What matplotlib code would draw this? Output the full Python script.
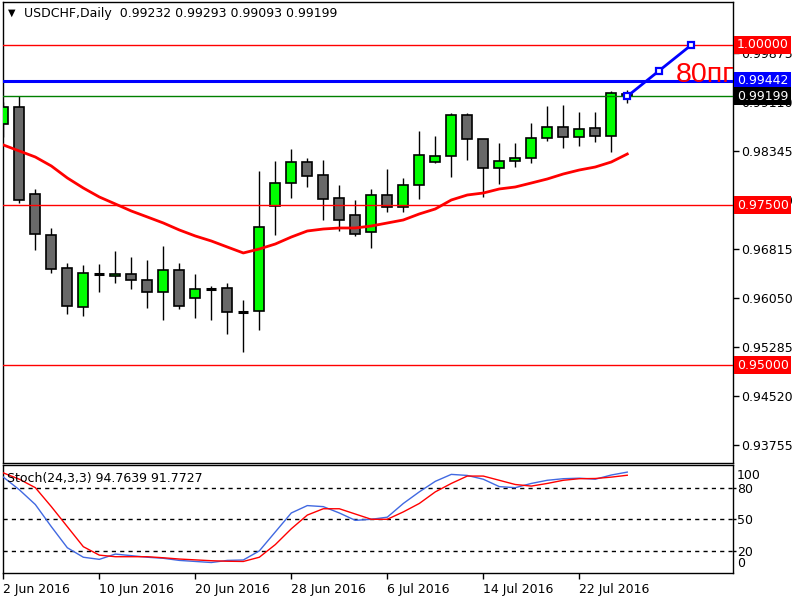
import matplotlib
matplotlib.use('Agg')
import matplotlib.pyplot as plt
from matplotlib.patches import Rectangle
import matplotlib.transforms as mtransforms

# ---- data ----
opens = [0.98762, 0.99027, 0.97669, 0.97029, 0.96514, 0.95905, 0.96431, 0.96389, 0.96420, 0.96326,
         0.96139, 0.96482, 0.96045, 0.96190, 0.96201, 0.95836, 0.95842, 0.97482, 0.97841, 0.98169,
         0.97966, 0.97607, 0.97341, 0.97076, 0.97653, 0.97466, 0.97810, 0.98169, 0.98262, 0.98902,
         0.98528, 0.98075, 0.98184, 0.98231, 0.98543, 0.98715, 0.98559, 0.98699, 0.98575, 0.99232]
highs = [0.99105, 0.99204, 0.97752, 0.97143, 0.96596, 0.96565, 0.96581, 0.96784, 0.96690, 0.96643,
         0.96862, 0.96596, 0.96425, 0.96233, 0.96284, 0.96019, 0.98033, 0.98189, 0.98376, 0.98231,
         0.98205, 0.97814, 0.97580, 0.97752, 0.98064, 0.97923, 0.98657, 0.98579, 0.98934, 0.98934,
         0.98535, 0.98470, 0.98470, 0.98782, 0.99048, 0.99063, 0.98954, 0.98954, 0.99277, 0.99293]
lows = [0.98568, 0.97538, 0.96804, 0.96445, 0.95805, 0.95774, 0.96148, 0.96289, 0.96195, 0.95898,
        0.95711, 0.95883, 0.95742, 0.95711, 0.95493, 0.95212, 0.95546, 0.97038, 0.97616, 0.97788,
        0.97272, 0.97101, 0.97023, 0.96835, 0.97397, 0.97397, 0.97600, 0.98153, 0.97944, 0.98209,
        0.97632, 0.97825, 0.98091, 0.98153, 0.98496, 0.98397, 0.98428, 0.98490, 0.98334, 0.99093]
closes = [0.99027, 0.97575, 0.97044, 0.96498, 0.95920, 0.96436, 0.96429, 0.96420, 0.96326, 0.96139,
          0.96482, 0.95920, 0.96186, 0.96190, 0.95827, 0.95836, 0.97154, 0.97841, 0.98169, 0.97950,
          0.97591, 0.97263, 0.97044, 0.97653, 0.97466, 0.97810, 0.98278, 0.98262, 0.98902, 0.98528,
          0.98075, 0.98184, 0.98231, 0.98543, 0.98715, 0.98559, 0.98684, 0.98575, 0.99246, 0.99199]
ma = [0.98439, 0.98345, 0.98251, 0.98111, 0.97924, 0.97767, 0.97627, 0.97518, 0.97408, 0.97315,
      0.97221, 0.97112, 0.97018, 0.96940, 0.96846, 0.96753, 0.96815, 0.96893, 0.97002, 0.97096,
      0.97127, 0.97143, 0.97143, 0.97174, 0.97221, 0.97268, 0.97362, 0.97440, 0.97580, 0.97658,
      0.97689, 0.97752, 0.97783, 0.97845, 0.97908, 0.97986, 0.98048, 0.98095, 0.98173, 0.98298]
stoch_k = [90, 78, 64, 43, 23, 14, 12, 17, 15.5, 14, 13, 11, 10, 9, 11, 11.4, 20, 38, 56, 63,
           62, 56, 49, 50, 52, 65, 76, 86, 92.6, 91.6, 88, 81, 80, 84, 87, 88.5, 89, 88, 92, 94.7639]
stoch_d = [94, 88, 80, 62, 43, 24, 16, 14.5, 14.5, 14.5, 13.5, 12.3, 11.5, 10.7, 10.2, 10, 14, 26, 41, 54,
           60, 60, 55, 50, 50, 57, 65, 76, 84, 91, 91, 87, 83, 81.5, 84, 87, 88.5, 88.7, 90, 91.7727]

date_tick_idx = [0, 6, 12, 18, 24, 30, 36]
date_tick_labels = ['2 Jun 2016', '10 Jun 2016', '20 Jun 2016', '28 Jun 2016',
                    '6 Jul 2016', '14 Jul 2016', '22 Jul 2016']
price_ticks = [0.99875, 0.99110, 0.98345, 0.97580, 0.96815, 0.96050, 0.95285, 0.94520, 0.93755]
red_levels = [1.00000, 0.97500, 0.95000]
blue_level = 0.99442
bid_level = 0.99199
trend_x = [39, 41, 43]
trend_y = [0.99199, 0.99600, 1.00000]
header = 'USDCHF,Daily  0.99232 0.99293 0.99093 0.99199'
stoch_title = 'Stoch(24,3,3) 94.7639 91.7727'
annotation = '80пп'

# ---- figure ----
W, H = 800, 600
fig = plt.figure(figsize=(8, 6), dpi=100)
fig.patch.set_facecolor('white')

left_px, right_px = 2.7, 732.7
ax = fig.add_axes([left_px / W, (H - 463) / H, (right_px - left_px) / W, (463 - 2) / H])
ax2 = fig.add_axes([left_px / W, (H - 573) / H, (right_px - left_px) / W, (573 - 465) / H])

xmin = -0.04
xmax = 45.59
ax.set_xlim(xmin, xmax)
ax2.set_xlim(xmin, xmax)
ax.set_ylim(0.93474, 1.00671)
ax2.set_ylim(-0.95, 101.5)

for a in (ax, ax2):
    for s in a.spines.values():
        s.set_color('black')
        s.set_linewidth(1.0)

# candles
bw = 0.62
for i, (o, h, l, c) in enumerate(zip(opens, highs, lows, closes)):
    ax.plot([i, i], [l, h], color='black', lw=1.0, zorder=2, solid_capstyle='butt')
    if abs(c - o) < 0.00005:
        ax.plot([i - bw / 2, i + bw / 2], [c, c], color='black', lw=2.2, zorder=3,
                solid_capstyle='butt')
    else:
        col = '#00FF00' if c > o else '#696969'
        ax.add_patch(Rectangle((i - bw / 2, min(o, c)), bw, abs(c - o),
                               facecolor=col, edgecolor='black', lw=1.2, zorder=3))

# moving average
ax.plot(range(len(ma)), ma, color='#FF0000', lw=2.0, zorder=5)

# levels
for lv in red_levels:
    ax.axhline(lv, color='#FF0000', lw=1.0, zorder=4)
ax.axhline(blue_level, color='#0000FF', lw=2.2, zorder=4)
ax.axhline(bid_level, color='#008000', lw=1.0, zorder=4)

# trend line
ax.plot(trend_x, trend_y, color='#0000FF', lw=2.0, marker='s', markersize=5,
        markerfacecolor='white', markeredgecolor='#0000FF', markeredgewidth=1.6, zorder=6)

# annotation
ax.text(42.04, 0.99427, annotation, color='#FF0000', fontsize=20.5,
        family=['Liberation Sans', 'DejaVu Sans'], ha='left', va='baseline',
        clip_on=True, zorder=7)

# right price axis
ax.yaxis.tick_right()
ax.set_yticks(price_ticks)
ax.set_yticklabels([f'{p:.5f}' for p in price_ticks])
ax.tick_params(axis='y', direction='out', length=4, width=1, pad=2, labelsize=9,
               colors='black')
ax.set_xticks([])

trans = mtransforms.blended_transform_factory(ax.transAxes, ax.transData)
tag_x = (737.0 - left_px) / (right_px - left_px)
for lv, fc in [(1.00000, '#FF0000'), (blue_level, '#0000FF'), (bid_level, '#000000'),
               (0.97500, '#FF0000'), (0.95000, '#FF0000')]:
    ax.text(tag_x, lv, f'{lv:.5f}', transform=trans, color='white', fontsize=9,
            ha='left', va='center', clip_on=False, zorder=20,
            bbox=dict(boxstyle='square,pad=0.2', fc=fc, ec='none'))

# stochastic
xs = range(len(stoch_k))
for lv in (20, 50, 80):
    ax2.axhline(lv, color='black', lw=1.0, ls=(0, (3, 3)), zorder=1)
ax2.plot(xs, stoch_k, color='#4169E1', lw=1.0, zorder=3)
ax2.plot(xs, stoch_d, color='#FF0000', lw=1.0, zorder=3)

ax2.yaxis.tick_right()
ax2.set_yticks([20, 50, 80])
ax2.set_yticklabels(['20', '50', '80'])
ax2.tick_params(axis='y', direction='out', length=2, width=1, pad=1, labelsize=9)
trans2 = mtransforms.blended_transform_factory(ax2.transAxes, ax2.transData)
for lab, yv in (('100', 92.0), ('0', 7.6)):
    ax2.text(1.0 + 4.0 / 730, yv, lab, transform=trans2, fontsize=9, ha='left',
             va='center', clip_on=False)

ax2.set_xticks(date_tick_idx)
ax2.set_xticklabels(date_tick_labels)
ax2.tick_params(axis='x', direction='out', length=4, width=1, pad=3, labelsize=9)
for t in ax2.get_xticklabels():
    t.set_horizontalalignment('left')

# header texts
fig.text(12 / W, 1 - 13 / H, '▼', fontsize=7, ha='center', va='center')
fig.text(24 / W, 1 - 13.5 / H, header, fontsize=9, ha='left', va='center')
fig.text(7 / W, 1 - 478.5 / H, stoch_title, fontsize=9, ha='left', va='center')

fig.savefig('out.png', dpi=100, facecolor='white')
